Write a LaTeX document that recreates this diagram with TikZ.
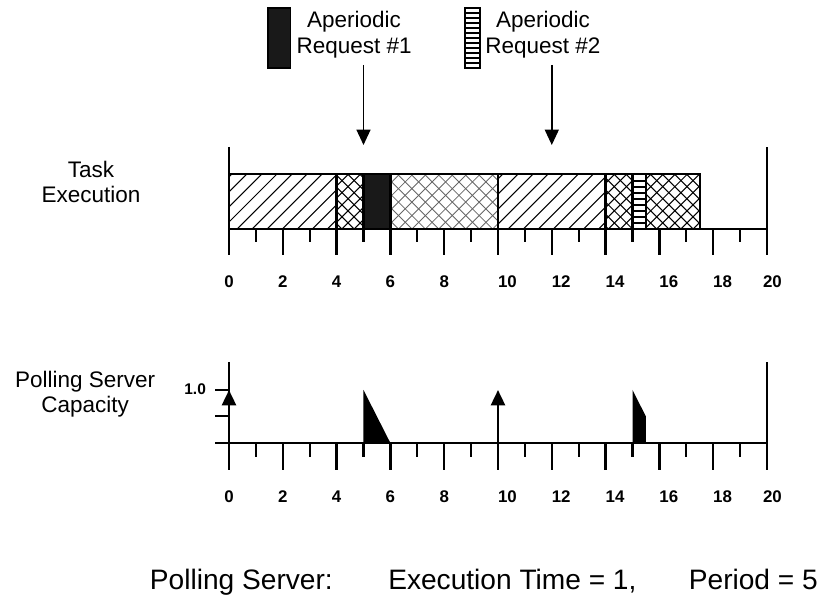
\documentclass[tikz,border=0pt]{standalone}
\usepackage{fontspec}
\setmainfont{Liberation Sans}
\usetikzlibrary{arrows.meta}
\tikzset{
  lbl/.style={font=\fontsize{16}{18}\selectfont, align=center, inner sep=0pt},
  bigtxt/.style={font=\fontsize{20}{24}\selectfont, inner sep=0pt},
  ticklbl/.style={font=\bfseries\fontsize{12}{14}\selectfont, inner sep=0pt},
  axisline/.style={line width=1.7pt},
  stripe/.style={line width=1.3pt},
  hatchline/.style={line width=0.75pt},
  lighthatch/.style={line width=0.6pt, black!60},
  reqarrow/.style={line width=1.1pt, -{Triangle[width=10pt,length=11pt]}},
  caparrow/.style={line width=1.9pt, -{Triangle[width=10pt,length=11pt]}},
  dark/.style={fill=black!90}
}
\begin{document}
\begin{tikzpicture}[x=0.6725cm,y=1cm]
\useasboundingbox (-8.513,-9.2) rectangle (22.119,5.725);
% legend
\draw[dark,line width=0.8pt] (1.45,4.025) rectangle (2.30,5.525); % key request 1
\node[lbl] (req1) at (4.65,4.86) {Aperiodic\\Request \#1};
\draw[line width=0.9pt] (8.77,4.025) rectangle (9.33,5.525); % key request 2
\foreach \y in {4.15,4.275,...,5.45} \draw[stripe] (8.77,\y) -- (9.33,\y);
\node[lbl] (req2) at (11.67,4.86) {Aperiodic\\Request \#2};
\coordinate (a1top) at (5,4.1);
\coordinate (a1tip) at (5,2.1);
\coordinate (a2top) at (12,4.1);
\coordinate (a2tip) at (12,2.1);
\draw[reqarrow] (a1top) -- (a1tip); % request 1 arrival
\draw[reqarrow] (a2top) -- (a2tip); % request 2 arrival
% task execution
\node[lbl] (task) at (-5.13,1.175) {Task\\Execution};
\begin{scope} % periodic task
\clip (0,0) rectangle (4,1.375) (10,0) rectangle (14,1.375);
\foreach \s in {-2.5,-1.94,...,14} \draw[hatchline] (\s,0) -- ++(1.375cm,1.375cm);
\end{scope}
\begin{scope} % second task
\clip (4,0) rectangle (5,1.375) (14,0) rectangle (15,1.375) (15.5,0) rectangle (17.5,1.375);
\foreach \s in {1.5,1.95,...,20} \draw[hatchline] (\s,0) -- ++(1.375cm,1.375cm) (\s,0) -- ++(-1.375cm,1.375cm);
\end{scope}
\begin{scope} % second task, preempted part
\clip (6,0) rectangle (10,1.375);
\foreach \s in {3.8,4.3,...,12.5} \draw[lighthatch] (\s,0) -- ++(1.375cm,1.375cm) (\s,0) -- ++(-1.375cm,1.375cm);
\end{scope}
\begin{scope}[axisline]
\draw (0,0) rectangle (4,1.375) (4,0) rectangle (5,1.375);
\draw[dark] (5,0) rectangle (6,1.375);
\draw (6,0) rectangle (10,1.375) (10,0) rectangle (14,1.375) (14,0) rectangle (15,1.375);
\foreach \y in {0.15,0.3,...,1.3} \draw[stripe] (15,\y) -- (15.5,\y);
\draw (15,0) rectangle (15.5,1.375) (15.5,0) rectangle (17.5,1.375);
\draw (0,2.05) -- (0,0) -- (20,0) -- (20,2.05); % axis
\foreach \t in {0,2,...,20} \draw (\t,0) -- (\t,-0.65);
\foreach \t in {1,3,...,19} \draw (\t,0) -- (\t,-0.325);
\end{scope}
\foreach \t in {0,2,4,6,8} \node[ticklbl] (ta\t) at (\t,-1.325) {\t};
\foreach \t in {10,12,...,18} \node[ticklbl] (ta\t) at (\t+0.35,-1.325) {\t};
\node[ticklbl] (ta20) at (20.2,-1.325) {20};
% polling server capacity
\node[lbl] (cap) at (-5.35,-4.125) {Polling Server\\Capacity};
\begin{scope}[axisline]
\draw (0,-3.325) -- (0,-5.35) -- (20,-5.35) -- (20,-3.325); % axis
\foreach \t in {0,2,...,20} \draw (\t,-5.35) -- (\t,-6.025);
\foreach \t in {1,3,...,19} \draw (\t,-5.35) -- (\t,-5.7);
\draw (-0.52,-4.025) -- (0,-4.025); % 1.0
\draw (-0.52,-4.675) -- (0,-4.675); % 0.5
\draw (-0.52,-5.35) -- (0,-5.35); % 0
\end{scope}
\node[ticklbl,font=\bfseries\fontsize{11}{13}\selectfont,anchor=east] (one) at (-0.85,-4.0) {1.0};
\draw[caparrow] (0,-5.35) -- (0,-4.025); % replenish
\draw[caparrow] (10,-5.35) -- (10,-4.025); % replenish
\fill (5,-5.35) -- (5,-4.025) -- (6,-5.35) -- cycle; % used by request 1
\fill (15,-5.35) -- (15,-4.025) -- (15.5,-4.6875) -- (15.5,-5.35) -- cycle; % used by request 2
\foreach \t in {0,2,4,6,8} \node[ticklbl] (tb\t) at (\t,-6.7) {\t};
\foreach \t in {10,12,...,18} \node[ticklbl] (tb\t) at (\t+0.35,-6.7) {\t};
\node[ticklbl] (tb20) at (20.2,-6.7) {20};
% parameters
\node[bigtxt,anchor=base east] (ps) at (3.87,-9.02) {Polling Server:};
\node[bigtxt,anchor=base west] (et) at (5.91,-9.02) {Execution Time = 1,};
\node[bigtxt,anchor=base east] (per) at (21.9,-9.02) {Period = 5};
\end{tikzpicture}
\end{document}
